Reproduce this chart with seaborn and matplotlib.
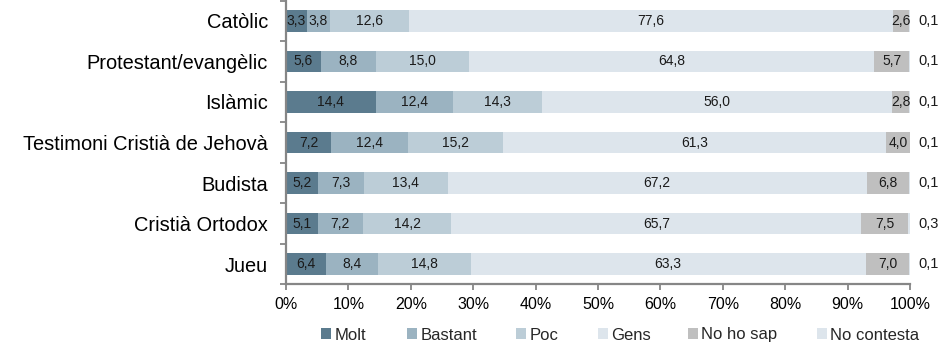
import matplotlib
matplotlib.use("Agg")
import matplotlib.pyplot as plt
from matplotlib.patches import Patch
import numpy as np
import pandas as pd
import seaborn as sns

categories = ["Catòlic", "Protestant/evangèlic", "Islàmic", "Testimoni Cristià de Jehovà",
              "Budista", "Cristià Ortodox", "Jueu"]
series = ["Molt", "Bastant", "Poc", "Gens", "No ho sap", "No contesta"]
molt = [3.3, 5.6, 14.4, 7.2, 5.2, 5.1, 6.4]
bastant = [3.8, 8.8, 12.4, 12.4, 7.3, 7.2, 8.4]
poc = [12.6, 15.0, 14.3, 15.2, 13.4, 14.2, 14.8]
gens = [77.6, 64.8, 56.0, 61.3, 67.2, 65.7, 63.3]
no_ho_sap = [2.6, 5.7, 2.8, 4.0, 6.8, 7.5, 7.0]
no_contesta = [0.1, 0.1, 0.1, 0.1, 0.1, 0.3, 0.1]
xticks = [0, 10, 20, 30, 40, 50, 60, 70, 80, 90, 100]

colors = ["#5b7b8e", "#9bb3c1", "#bccdd7", "#dde5ec", "#bfbfbf", "#dde5ec"]

values = np.array([molt, bastant, poc, gens, no_ho_sap, no_contesta])
cum = np.cumsum(values, axis=0)
starts = cum - values

sns.set_theme(style="white")
plt.rcParams["font.family"] = ["Liberation Sans", "DejaVu Sans"]

W, H = 940, 345
fig = plt.figure(figsize=(W / 100, H / 100), dpi=100)
left, right, top, bottom = 286, 910, 0.6, 284.4
ax = fig.add_axes([left / W, 1 - bottom / H, (right - left) / W, (bottom - top) / H])

# stacked bars: paint cumulative totals from the outermost layer inwards
for i in range(len(series) - 1, -1, -1):
    df = pd.DataFrame({"cat": categories, "val": cum[i]})
    sns.barplot(data=df, x="val", y="cat", orient="h", color=colors[i],
                saturation=1, width=0.53, ax=ax, errorbar=None, linewidth=0)

# value labels
for i in range(len(series)):
    for j in range(len(categories)):
        v = values[i, j]
        txt = f"{v:.1f}".replace(".", ",")
        if i == len(series) - 1:
            ax.text(101.3, j, txt, ha="left", va="center",
                    fontsize=10.5, color="#1a1a1a", clip_on=False)
        else:
            ax.text(starts[i, j] + v / 2, j, txt,
                    ha="center", va="center", fontsize=10, color="#1a1a1a",
                    clip_on=True)

ax.set_xlim(0, 100)
ax.set_ylim(len(categories) - 0.5, -0.5)
ax.set_xticks(xticks)
ax.set_xticklabels([f"{t}%" for t in xticks], fontsize=11.5)
ax.set_yticks(range(len(categories)))
ax.set_yticklabels(categories, fontsize=14.4)
ax.set_xlabel("")
ax.set_ylabel("")

for s in ["top", "right"]:
    ax.spines[s].set_visible(False)
for s in ["left", "bottom"]:
    ax.spines[s].set_color("#868686")
    ax.spines[s].set_linewidth(1.6)

# y tick marks sit between categories
ax.set_yticks(np.arange(-0.5, len(categories), 1), minor=True)
ax.tick_params(axis="y", which="major", left=False, length=0, pad=13)
ax.tick_params(axis="y", which="minor", left=True, length=4.5, width=1.3,
               color="#868686", direction="out")
ax.tick_params(axis="x", which="major", bottom=True, length=4, width=1.3,
               color="#868686", direction="out", pad=5)
for lab in ax.get_yticklabels() + ax.get_xticklabels():
    lab.set_color("#000000")

# legend entries placed individually along the bottom
legend_x = [321, 407, 516, 598, 688, 817]
for c, s, lx in zip(colors, series, legend_x):
    fig.legend(handles=[Patch(facecolor=c, edgecolor="none", label=s)],
               loc="center left", bbox_to_anchor=(lx / W, 1 - 335 / H),
               frameon=False, fontsize=12, handlelength=0.6, handleheight=0.6,
               handletextpad=0.2, borderpad=0, borderaxespad=0)

fig.savefig("out.png", dpi=100)
